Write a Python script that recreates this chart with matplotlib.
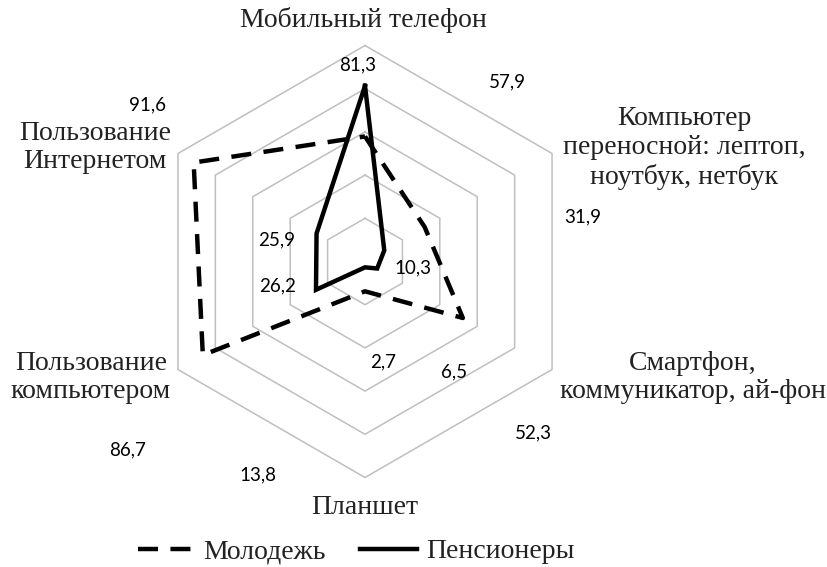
import matplotlib
matplotlib.use("Agg")
import matplotlib.pyplot as plt
import numpy as np

# Категории (по часовой стрелке, начиная сверху)
categories = ["Мобильный телефон",
              "Компьютер\nпереносной: лептоп,\nноутбук, нетбук",
              "Смартфон,\nкоммуникатор, ай-фон",
              "Планшет",
              "Пользование\nкомпьютером",
              "Пользование\nИнтернетом"]

youth = [57.9, 31.9, 52.3, 13.8, 86.7, 91.6]       # Молодежь
pensioners = [81.3, 10.3, 6.5, 2.7, 26.2, 25.9]    # Пенсионеры
rings = [20, 40, 60, 80, 100]

# где стоят подписи (координаты графика, 100 = внешнее кольцо)
cat_pos = [(-0.5, 111.8), (147.7, 52.5), (151.9, -53.7),
           (0, -113.7), (-126.9, -53.7), (-125.0, 52.8)]
youth_lbl = [(65.7, 83.1), (100.9, 20.6), (77.8, -79.4),
             (-49.5, -98.8), (-109.7, -87.3), (-100.9, 72.5)]
pens_lbl = [(-3.2, 91.0), (22.2, -3.0), (41.2, -51.2),
            (8.3, -46.5), (-40.7, -11.3), (-40.7, 10.0)]

serif = "Liberation Serif"
sans = "Lato"

ang = np.deg2rad(90 - 60 * np.arange(6))


def xy(vals):
    v = np.array(list(vals) + [vals[0]])
    a = np.append(ang, ang[0])
    return v * np.cos(a), v * np.sin(a)


fig = plt.figure(figsize=(8.28, 5.67), dpi=100)
ax = fig.add_axes([0, 0, 1, 1])
ax.set_xlim(-365 / 2.16, (828 - 365) / 2.16)
ax.set_ylim(-(567 - 261.5) / 2.16, 261.5 / 2.16)
ax.axis("off")

for r in rings:
    gx, gy = xy([r] * 6)
    ax.plot(gx, gy, color="#bfbfbf", lw=1.1, zorder=1)

x1, y1 = xy(youth)
ax.plot(x1, y1, color="black", lw=3.2, linestyle=(0, (4.5, 2.8)),
        label="Молодежь", zorder=3)
x2, y2 = xy(pensioners)
ax.plot(x2, y2, color="black", lw=3.2, solid_joinstyle="miter",
        label="Пенсионеры", zorder=3)

for name, (px, py) in zip(categories, cat_pos):
    ax.text(px, py, name, ha="center", va="center", fontsize=20,
            family=serif, color="#222222", linespacing=1.2)

for v, (px, py) in zip(youth, youth_lbl):
    ax.text(px, py, f"{v:.1f}".replace(".", ","), ha="center", va="center",
            fontsize=13.5, family=sans, color="black")
for v, (px, py) in zip(pensioners, pens_lbl):
    ax.text(px, py, f"{v:.1f}".replace(".", ","), ha="center", va="center",
            fontsize=13.5, family=sans, color="black")

fig.legend(loc="center", bbox_to_anchor=(0.43, 0.027), ncol=2, frameon=False,
           prop={"family": serif, "size": 20}, handlelength=2.05,
           handletextpad=0.3, columnspacing=1.25, labelcolor="#222222")

fig.savefig("out.png", dpi=100)
